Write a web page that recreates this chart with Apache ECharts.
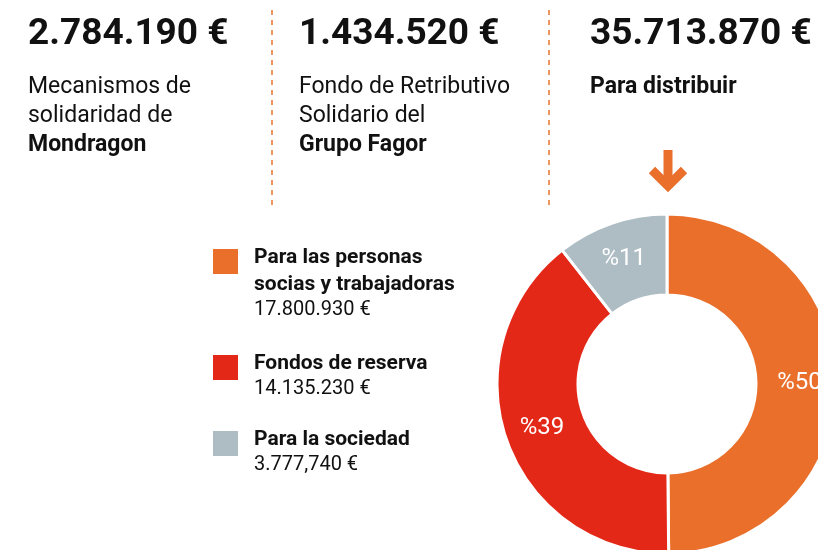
<!DOCTYPE html>
<html>
<head>
<meta charset="utf-8">
<script src="https://cdn.jsdelivr.net/npm/echarts@6/dist/echarts.min.js"></script>
<style>
  html, body { margin: 0; padding: 0; background: #fff; }
  #chart { width: 818px; height: 550px; }
</style>
</head>
<body>
<div id="chart"></div>
<script>
// header figures
var headerAmounts = ['2.784.190 €', '1.434.520 €', '35.713.870 €'];
var headerLines = [
  [['Mecanismos de', false], ['solidaridad de', false], ['Mondragon', true]],
  [['Fondo de Retributivo', false], ['Solidario del', false], ['Grupo Fagor', true]],
  [['Para distribuir', true]]
];

// donut data
var categories = ['Para las personas\nsocias y trabajadoras', 'Fondos de reserva', 'Para la sociedad'];
var amounts = [17800930, 14135230, 3777740];
var amountLabels = ['17.800.930 €', '14.135.230 €', '3.777,740 €'];
var percentLabels = ['%50', '%39', '%11'];
var colors = ['#e96f2b', '#e42818', '#aebcc4'];

var FONT = 'Roboto, "Noto Sans", sans-serif';
var INK = '#111111';

var chart = echarts.init(document.getElementById('chart'), null, { renderer: 'canvas' });

var graphics = [];

// header columns
var colX = [28, 299, 590];
headerAmounts.forEach(function (txt, i) {
  graphics.push({
    type: 'text', x: colX[i], y: 35,
    style: { text: txt, fill: INK, verticalAlign: 'middle', font: 'bold 37px ' + FONT }
  });
  headerLines[i].forEach(function (ln, j) {
    graphics.push({
      type: 'text', x: colX[i], y: 87 + j * 29,
      style: {
        text: ln[0], fill: INK, verticalAlign: 'middle',
        font: (ln[1] ? 'bold ' : '') + '23px ' + FONT
      }
    });
  });
});

// dashed separators
[272, 549].forEach(function (x) {
  graphics.push({
    type: 'line',
    shape: { x1: x, y1: 10, x2: x, y2: 205 },
    style: { stroke: '#ef9560', lineWidth: 2, lineDash: [5, 5] }
  });
});

// down arrow above the donut
graphics.push({
  type: 'line', shape: { x1: 668, y1: 150, x2: 668, y2: 186 },
  style: { stroke: '#e96f2b', lineWidth: 9 }
});
graphics.push({
  type: 'polyline', shape: { points: [[652, 170], [668, 186], [684, 170]] },
  style: { stroke: '#e96f2b', lineWidth: 9, fill: null, lineJoin: 'miter' }
});

// legend
var legendTop = [258, 364, 440];
categories.forEach(function (name, i) {
  var lines = name.split('\n');
  graphics.push({
    type: 'rect', shape: { x: 213, y: legendTop[i] - 9, width: 25, height: 25 },
    style: { fill: colors[i] }
  });
  lines.forEach(function (ln, j) {
    graphics.push({
      type: 'text', x: 254, y: legendTop[i] + j * 27,
      style: { text: ln, fill: INK, verticalAlign: 'middle', font: 'bold 21px ' + FONT }
    });
  });
  graphics.push({
    type: 'text', x: 254, y: legendTop[i] + (lines.length - 1) * 27 + 25,
    style: { text: amountLabels[i], fill: INK, verticalAlign: 'middle', font: '20px ' + FONT }
  });
});

chart.setOption({
  animation: false,
  backgroundColor: '#ffffff',
  color: colors,
  graphic: graphics,
  series: [{
    type: 'pie',
    center: [667, 384],
    radius: [89, 170],
    startAngle: 90,
    clockwise: true,
    silent: true,
    itemStyle: { borderColor: '#ffffff', borderWidth: 3 },
    label: {
      show: true,
      position: 'inside',
      color: '#ffffff',
      fontFamily: FONT,
      fontSize: 24,
      formatter: function (p) { return percentLabels[p.dataIndex]; }
    },
    labelLine: { show: false },
    data: categories.map(function (c, i) {
      return { name: c, value: amounts[i] };
    })
  }]
});
</script>
</body>
</html>
